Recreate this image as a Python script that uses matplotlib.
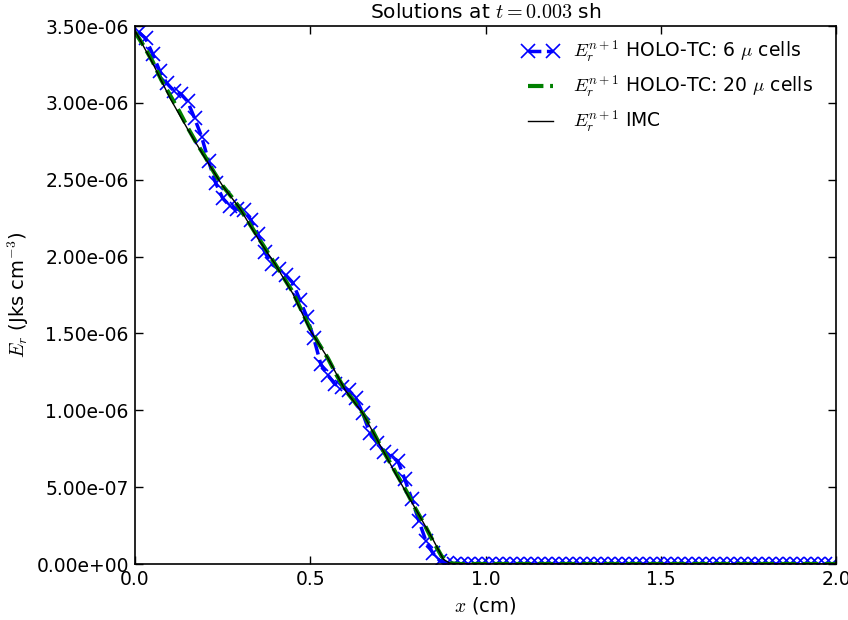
import numpy as np
import matplotlib
matplotlib.use("Agg")
import matplotlib.pyplot as plt
from matplotlib.ticker import FormatStrFormatter

plt.rcParams['mathtext.fontset'] = 'cm'
plt.rcParams['font.family'] = ['DejaVu Sans']

# HOLO-TC 6 micro cells (x in cm, Er in 1e-6 Jks cm^-3)
x_holo6 = [round(0.01 + 0.02 * k, 2) for k in range(100)]
er_holo6_head = [3.46, 3.42, 3.32, 3.21, 3.13, 3.08, 3.06, 3.01, 2.90, 2.78,
                 2.62, 2.48, 2.38, 2.33, 2.31, 2.30, 2.24, 2.15, 2.03, 1.95,
                 1.92, 1.88, 1.83, 1.72, 1.61, 1.47, 1.30, 1.23, 1.17, 1.15,
                 1.13, 1.08, 0.98, 0.85, 0.79, 0.73, 0.70, 0.67, 0.55, 0.42,
                 0.28, 0.15, 0.07, 0.02, 0.005]
er_holo6 = er_holo6_head + [0.0] * (100 - len(er_holo6_head))

# HOLO-TC 20 micro cells
x_holo20 = [round(0.025 * k, 3) for k in range(81)]
er_holo20_head = [3.46, 3.37, 3.27, 3.15, 3.05, 2.95, 2.84, 2.74, 2.65, 2.55,
                  2.46, 2.39, 2.31, 2.22, 2.13, 2.04, 1.95, 1.86, 1.77, 1.65,
                  1.53, 1.43, 1.34, 1.23, 1.13, 1.06, 0.98, 0.88, 0.77, 0.67,
                  0.57, 0.47, 0.36, 0.26, 0.15, 0.05, 0.005]
er_holo20 = er_holo20_head + [0.0] * (81 - len(er_holo20_head))

# IMC
x_imc = [0.00, 0.05, 0.10, 0.15, 0.20, 0.25, 0.30, 0.35, 0.40, 0.45, 0.50,
         0.55, 0.60, 0.65, 0.70, 0.75, 0.80, 0.85, 0.88, 0.90, 0.95, 1.0,
         1.5, 2.0]
er_imc = [3.47, 3.26, 3.03, 2.83, 2.64, 2.46, 2.31, 2.12, 1.95, 1.76, 1.52,
          1.34, 1.13, 0.98, 0.77, 0.56, 0.36, 0.16, 0.03, 0.003, 0.0, 0.0,
          0.0, 0.0]

labels = [r'$E_r^{n+1}$ HOLO-TC: 6 $\mu$ cells',
          r'$E_r^{n+1}$ HOLO-TC: 20 $\mu$ cells',
          r'$E_r^{n+1}$ IMC']

fig = plt.figure(figsize=(8.48, 6.2), dpi=100)
ax = fig.add_axes([135 / 848, 1 - 564 / 620, (836 - 135) / 848, (564 - 26) / 620])

scale = 1e-6
ax.plot(x_holo6, np.array(er_holo6) * scale, color='blue', ls='--', lw=2.5,
        marker='x', ms=10, mew=1.2, label=labels[0])
ax.plot(x_holo20, np.array(er_holo20) * scale, color='green', ls='--', lw=3,
        label=labels[1])
ax.plot(x_imc, np.array(er_imc) * scale, color='black', ls='-', lw=1.0,
        label=labels[2])

ax.set_xlim(0, 2.0)
ax.set_ylim(0, 3.5e-6)
ax.set_xticks([0.0, 0.5, 1.0, 1.5, 2.0])
ax.set_yticks(np.arange(0, 3.51e-6, 0.5e-6))
ax.yaxis.set_major_formatter(FormatStrFormatter('%.2e'))
ax.xaxis.set_major_formatter(FormatStrFormatter('%.1f'))
ax.tick_params(direction='in', top=True, right=True, length=6, width=1,
               labelsize=13.5, pad=4.5)
for s in ax.spines.values():
    s.set_linewidth(1.2)

ax.set_title(r'Solutions at $t=0.003$ sh', fontsize=14.5)
ax.set_xlabel(r'$x$ (cm)', fontsize=14)
ax.set_ylabel(r'$E_r$ (Jks cm$^{-3}$)', fontsize=14)
ax.yaxis.set_label_coords(-0.148, 0.5)

ax.legend(loc='upper right', bbox_to_anchor=(0.985, 1.0), frameon=False,
          numpoints=2, fontsize=13.5, handlelength=1.9, borderaxespad=0.25)

fig.savefig('out.png', dpi=100)
